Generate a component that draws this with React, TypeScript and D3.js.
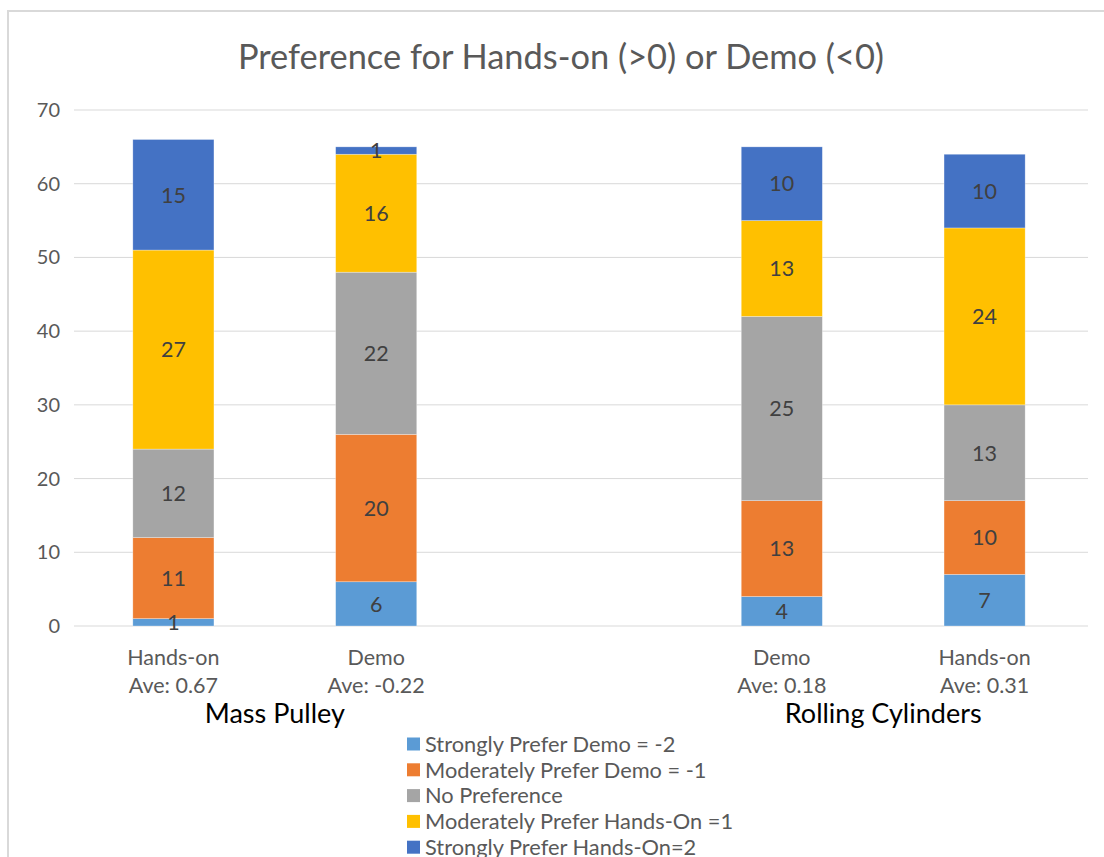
import React from "react";
import * as d3 from "d3";

const categories = ["MP-Hands-on", "MP-Demo", "gap", "RC-Demo", "RC-Hands-on"];
const catLabels = ["Hands-on", "Demo", "", "Demo", "Hands-on"];
const aveLabels = ["Ave: 0.67", "Ave: -0.22", "", "Ave: 0.18", "Ave: 0.31"];
const groupLabels = ["Mass Pulley", "Rolling Cylinders"];

const seriesNames = [
  "Strongly Prefer Demo = -2",
  "Moderately Prefer Demo = -1",
  "No Preference",
  "Moderately Prefer Hands-On =1",
  "Strongly Prefer Hands-On=2",
];
const seriesColors = ["#5B9BD5", "#ED7D31", "#A5A5A5", "#FFC000", "#4472C4"];

const stronglyDemo = [1, 6, 0, 4, 7];
const moderatelyDemo = [11, 20, 0, 13, 10];
const noPreference = [12, 22, 0, 25, 13];
const moderatelyHands = [27, 16, 0, 13, 24];
const stronglyHands = [15, 1, 0, 10, 10];

const yTicks = [0, 10, 20, 30, 40, 50, 60, 70];

const FONT = "Lato, 'Open Sans', sans-serif";

export default function App() {
  const W = 1104;
  const H = 857;
  const x = d3.scaleBand().domain(categories).range([72, 1086]).padding(0);
  const y = d3.scaleLinear().domain([0, 70]).range([626, 110]);
  const barW = x.bandwidth() * 0.4;

  const rows = categories.map((c, i) => ({
    cat: c,
    s0: stronglyDemo[i],
    s1: moderatelyDemo[i],
    s2: noPreference[i],
    s3: moderatelyHands[i],
    s4: stronglyHands[i],
  }));
  const keys = ["s0", "s1", "s2", "s3", "s4"];
  const stacked = d3.stack<any>().keys(keys)(rows);

  const cx = (c: string) => (x(c) as number) + x.bandwidth() / 2;

  return (
    <svg
      width={W}
      height={H}
      style={{ position: "absolute", left: 0, top: 0, display: "block", background: "#fff" }}
    >
      <rect x={8} y={11} width={1200} height={1000} fill="#fff" stroke="#d9d9d9" strokeWidth={2} />
      <text
        x={561}
        y={69}
        textAnchor="middle"
        fontFamily={FONT}
        fontSize={34.4}
        fill="#595959"
      >
        Preference for Hands-on (&gt;0) or Demo (&lt;0)
      </text>
      {yTicks.map((t) => (
        <g key={t}>
          <line x1={74} x2={1088} y1={y(t)} y2={y(t)} stroke="#d9d9d9" strokeWidth={1} />
          <text
            x={60}
            y={y(t)}
            dy="0.35em"
            textAnchor="end"
            fontFamily={FONT}
            fontSize={20}
            fill="#595959"
          >
            {t}
          </text>
        </g>
      ))}
      {stacked.map((layer, li) => (
        <g key={li}>
          {layer.map((d, i) => {
            const v = d[1] - d[0];
            if (v <= 0) return null;
            const c = categories[i];
            return (
              <rect
                key={c}
                x={cx(c) - barW / 2}
                y={y(d[1])}
                width={barW}
                height={y(d[0]) - y(d[1])}
                fill={seriesColors[li]}
                stroke="#ffffff"
                strokeOpacity={0.5}
                strokeWidth={0.6}
              />
            );
          })}
        </g>
      ))}
      {stacked.map((layer, li) => (
        <g key={"l" + li}>
          {layer.map((d, i) => {
            const v = d[1] - d[0];
            if (v <= 0) return null;
            const c = categories[i];
            return (
              <text
                key={c}
                x={cx(c)}
                y={y((d[0] + d[1]) / 2)}
                dy="0.36em"
                textAnchor="middle"
                fontFamily={FONT}
                fontSize={21.5}
                fill="#404040"
              >
                {v}
              </text>
            );
          })}
        </g>
      ))}
      {categories.map((c, i) => (
        <g key={"x" + c}>
          <text x={cx(c)} y={665} textAnchor="middle" fontFamily={FONT} fontSize={21.5} fill="#595959">
            {catLabels[i]}
          </text>
          <text x={cx(c)} y={693} textAnchor="middle" fontFamily={FONT} fontSize={21.5} fill="#595959">
            {aveLabels[i]}
          </text>
        </g>
      ))}
      <text
        x={(cx(categories[0]) + cx(categories[1])) / 2}
        y={723}
        textAnchor="middle"
        fontFamily={FONT}
        fontSize={27}
        fill="#000"
      >
        {groupLabels[0]}
      </text>
      <text
        x={(cx(categories[3]) + cx(categories[4])) / 2}
        y={723}
        textAnchor="middle"
        fontFamily={FONT}
        fontSize={27}
        fill="#000"
      >
        {groupLabels[1]}
      </text>
      {seriesNames.map((n, i) => (
        <g key={n} transform={`translate(407, ${744 + i * 25.8})`}>
          <rect x={0} y={-6.5} width={13} height={13} fill={seriesColors[i]} />
          <text x={18} y={0} dy="0.36em" fontFamily={FONT} fontSize={21.8} fill="#595959">
            {n}
          </text>
        </g>
      ))}
    </svg>
  );
}
